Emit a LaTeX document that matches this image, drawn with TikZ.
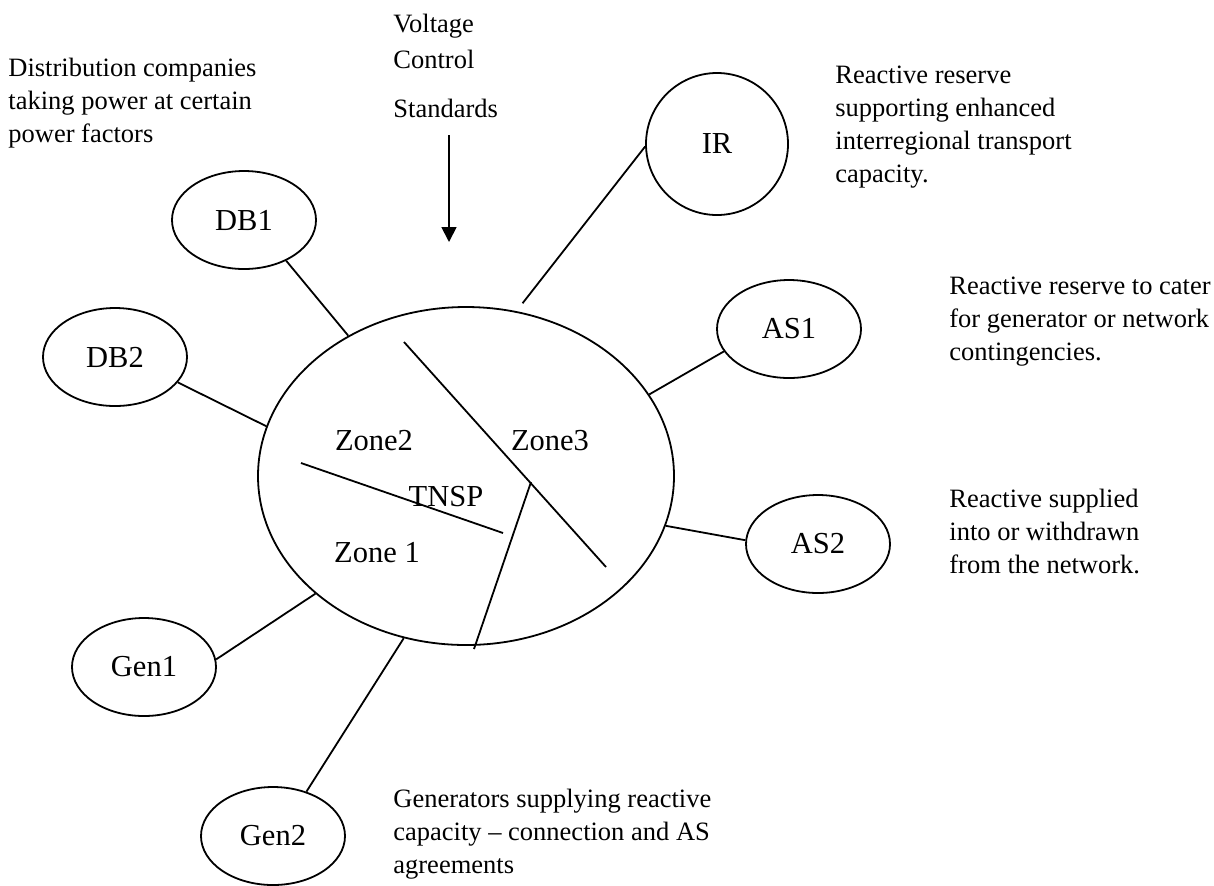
\documentclass[tikz,border=0pt]{standalone}
\usepackage{fontspec}
\setmainfont{Liberation Serif}
\usetikzlibrary{shapes.geometric,arrows.meta}
\tikzset{
    party/.style = {
        ellipse,
        draw,
        line width = 0.9pt,
        minimum width = 72pt,
        minimum height = 49pt,
        inner sep = 0pt,
        font = \fontsize{15.25}{18}\selectfont,
    },
    zonetext/.style = {
        inner sep = 0pt,
        font = \fontsize{15.25}{18}\selectfont,
    },
    note/.style = {
        anchor = north west,
        align = left,
        inner sep = 0pt,
        font = \fontsize{13.25}{16.5}\selectfont,
    },
    link/.style = {
        line width = 0.9pt,
    }
}

\begin{document}
\begin{tikzpicture}[x=0.5pt,y=-0.5pt]
    \useasboundingbox (0,0) rectangle (1214,885);

    \node[party, minimum width=208pt, minimum height=169pt] (tnsp) at (466,476) {};
    \node[zonetext] (Zone2) at (374,441) {Zone2};
    \node[zonetext] (Zone3) at (550,441) {Zone3};
    \node[zonetext] (TNSP) at (446,497) {TNSP};
    \node[zonetext] (Zone1) at (377,553) {Zone 1};

    \node[party] (DB1) at (244,220) {DB1};
    \node[party] (DB2) at (115,357) {DB2};
    \node[party] (Gen1) at (144,667) {Gen1};
    \node[party] (Gen2) at (273,836) {Gen2};
    \node[party] (AS1) at (789,329) {AS1};
    \node[party] (AS2) at (818,544) {AS2};
    \node[party, circle, minimum size=71pt] (IR) at (717,144) {IR};

    \node[note] (DistNote) at (8,58) {Distribution companies\\taking power at certain\\power factors};
    \node[note] (VCS) at (393,14) {Voltage\\[1.5pt]Control\\[8pt]Standards};
    \node[note] (IRNote) at (835,66) {Reactive reserve\\supporting enhanced\\interregional transport\\capacity.};
    \node[note] (AS1Note) at (949,277) {Reactive reserve to cater\\for generator or network\\contingencies.};
    \node[note] (AS2Note) at (949,489) {Reactive supplied\\into or withdrawn\\from the network.};
    \node[note] (GenNote) at (393,789) {Generators supplying reactive\\capacity -- connection and AS\\agreements};

    \coordinate (VCSTail) at (449,135);
    \coordinate (VCSHead) at (449,242);
    \draw[link,-{Triangle[width=7.5pt,length=7.5pt]}] (VCSTail) to (VCSHead);

    % zone borders
    \draw[link] (404,342) -- (606,567);
    \draw[link] (301,463) -- (503,533);
    \draw[link] (531,482) -- (474,649);

    \draw[link] (DB1.-44) to (tnsp.130);
    \draw[link] (DB2.-22) to (tnsp.166);
    \draw[link, shorten >=5pt] (IR.182) to (tnsp.73);
    \draw[link] (AS1.199) to (tnsp.24);
    \draw[link] (AS2.177) to (tnsp.-14);
    \draw[link] (Gen1.6) to (tnsp.218);
    \draw[link] (Gen2.53) to (tnsp.249);
\end{tikzpicture}
\end{document}
